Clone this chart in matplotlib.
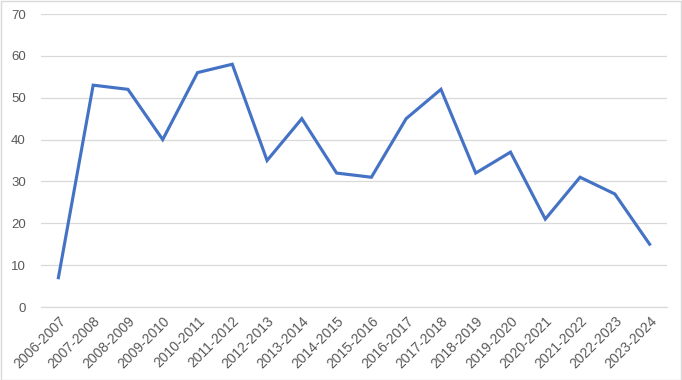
import matplotlib
matplotlib.use("Agg")
import matplotlib.pyplot as plt
from matplotlib.patches import Rectangle

seasons = [
    "2006-2007", "2007-2008", "2008-2009", "2009-2010", "2010-2011", "2011-2012",
    "2012-2013", "2013-2014", "2014-2015", "2015-2016", "2016-2017", "2017-2018",
    "2018-2019", "2019-2020", "2020-2021", "2021-2022", "2022-2023", "2023-2024",
]
counts = [7, 53, 52, 40, 56, 58, 35, 45, 32, 31, 45, 52, 32, 37, 21, 31, 27, 15]
y_ticks = [0, 10, 20, 30, 40, 50, 60, 70]

plt.rcParams["font.family"] = ["Liberation Sans", "DejaVu Sans"]

fig = plt.figure(figsize=(6.82, 3.8), dpi=100)
ax = fig.add_axes([41 / 682, 73 / 380, 626 / 682, 293 / 380])

x = list(range(len(seasons)))
ax.plot(x, counts, color="#4472C4", linewidth=2.25, solid_joinstyle="miter", zorder=3)

ax.set_xlim(-0.5, len(seasons) - 0.5)
ax.set_ylim(0, 70)
ax.set_yticks(y_ticks)
ax.set_xticks(x)
ax.set_xticklabels(seasons, rotation=45, ha="right", rotation_mode="anchor")
ax.tick_params(axis="both", length=0, labelcolor="#595959")
ax.tick_params(axis="x", pad=5, labelsize=10)
ax.tick_params(axis="y", pad=11, labelsize=9.5)
ax.grid(axis="y", color="#D9D9D9", linewidth=0.9)
ax.set_axisbelow(True)
for side in ["top", "right", "left"]:
    ax.spines[side].set_visible(False)
ax.spines["bottom"].set_color("#D9D9D9")
ax.spines["bottom"].set_linewidth(0.9)

fig.patches.append(Rectangle((0.001, 0.001), 0.997, 0.996, transform=fig.transFigure,
                             fill=False, edgecolor="#D9D9D9", linewidth=1))

fig.savefig("out.png", dpi=100)
